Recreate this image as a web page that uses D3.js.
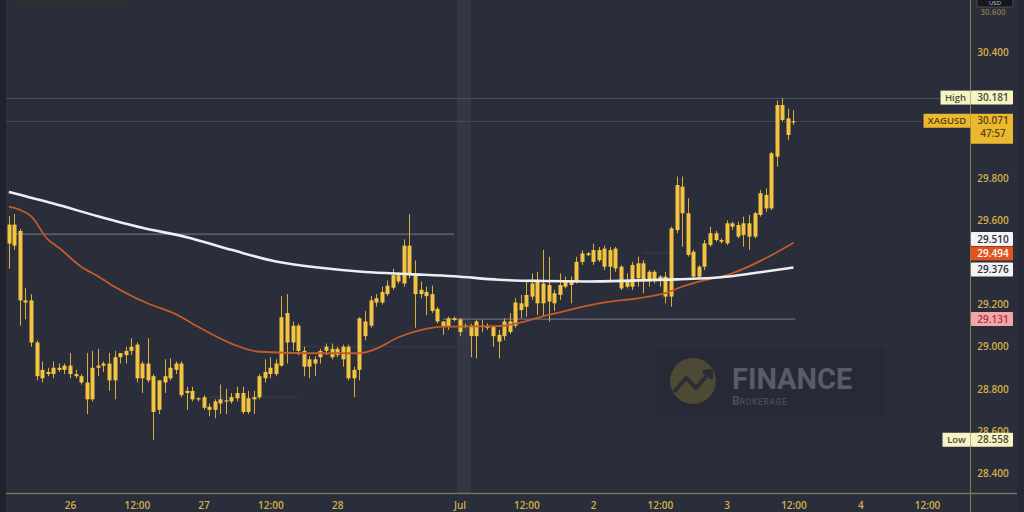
<!DOCTYPE html>
<html><head><meta charset="utf-8">
<script src="https://cdn.jsdelivr.net/npm/d3@7"></script>
<style>html,body{margin:0;padding:0;background:#2a2d3a;overflow:hidden}</style>
</head><body>
<svg id="c" width="1024" height="512"></svg>
<script>
// ---- DATA (XAGUSD, 1h candles) ----
const opens=[29.49,29.58,29.55,29.22,29.22,29.02,28.85,28.88,28.87,28.90,
28.89,28.91,28.87,28.86,28.83,28.75,28.90,28.91,28.92,28.84,
28.95,28.96,28.98,29.01,28.85,28.92,28.86,28.70,28.83,28.85,
28.89,28.92,28.79,28.79,28.755,28.76,28.715,28.70,28.73,28.745,
28.74,28.755,28.78,28.69,28.75,28.76,28.85,28.87,28.87,28.91,
29.16,29.02,29.10,28.98,28.905,28.94,28.95,28.98,28.99,28.96,
28.94,29.00,28.85,28.89,29.12,29.10,29.21,29.21,29.25,29.28,
29.34,29.30,29.48,29.34,29.25,29.26,29.25,29.18,29.12,29.095,
29.135,29.13,29.095,29.10,29.05,29.10,29.10,29.095,29.056,29.05,
29.07,29.10,29.206,29.19,29.238,29.317,29.206,29.293,29.206,29.246,
29.285,29.317,29.309,29.403,29.443,29.403,29.459,29.38,29.459,29.372,
29.38,29.285,29.285,29.396,29.317,29.356,29.317,29.333,29.333,29.238,
29.554,29.76,29.634,29.451,29.333,29.38,29.483,29.539,29.507,29.491,
29.586,29.578,29.531,29.586,29.523,29.626,29.721,29.657,29.903,30.148,
30.085,30.069];
const highs=[29.62,29.63,29.56,29.28,29.25,29.03,28.93,28.90,28.93,28.92,
28.92,28.97,28.89,28.87,28.97,28.98,28.99,28.93,28.97,28.98,
28.97,29.00,29.04,29.02,28.93,29.04,28.87,28.84,28.94,28.945,
28.93,28.93,28.81,28.81,28.76,28.77,28.73,28.75,28.82,28.80,
28.78,28.81,28.81,28.79,28.79,28.87,28.94,28.95,28.94,29.24,
29.25,29.12,29.11,29.00,28.955,28.955,28.99,29.015,29.015,29.00,
29.01,29.01,28.905,29.14,29.17,29.24,29.25,29.285,29.315,29.37,
29.355,29.51,29.63,29.41,29.31,29.285,29.29,29.19,29.12,29.143,
29.143,29.135,29.11,29.11,29.127,29.127,29.11,29.10,29.08,29.135,
29.16,29.23,29.246,29.309,29.348,29.356,29.46,29.427,29.27,29.348,
29.333,29.333,29.427,29.459,29.45,29.49,29.474,29.48,29.474,29.474,
29.388,29.348,29.403,29.427,29.412,29.364,29.364,29.34,29.356,29.57,
29.808,29.808,29.705,29.46,29.388,29.507,29.57,29.55,29.515,29.60,
29.594,29.594,29.618,29.626,29.641,29.744,29.752,29.926,30.17,30.181,
30.132,30.124];
const lows=[29.37,29.46,29.10,29.13,29.00,28.84,28.83,28.86,28.85,28.88,
28.87,28.85,28.85,28.82,28.68,28.74,28.86,28.88,28.79,28.75,
28.92,28.92,28.96,28.83,28.78,28.83,28.558,28.68,28.78,28.84,
28.87,28.76,28.70,28.74,28.74,28.70,28.67,28.66,28.68,28.68,
28.73,28.74,28.68,28.68,28.68,28.75,28.83,28.85,28.86,28.905,
28.92,28.98,28.96,28.86,28.85,28.86,28.92,28.96,28.94,28.95,
28.905,28.84,28.76,28.84,29.03,29.09,29.19,29.20,29.24,29.27,
29.30,29.285,29.325,29.09,29.23,29.15,29.16,29.11,29.056,29.08,
29.12,29.05,29.087,28.95,28.944,29.07,29.08,29.00,28.944,29.03,
29.06,29.09,29.135,29.143,29.222,29.151,29.143,29.119,29.17,29.222,
29.277,29.206,29.30,29.388,29.43,29.388,29.403,29.364,29.317,29.356,
29.269,29.277,29.269,29.285,29.254,29.285,29.30,29.285,29.206,29.19,
29.539,29.475,29.428,29.325,29.325,29.364,29.475,29.499,29.49,29.483,
29.554,29.515,29.475,29.46,29.515,29.618,29.641,29.649,29.855,30.069,
29.982,30.053];
const closes=[29.58,29.48,29.22,29.21,29.02,28.86,28.89,28.87,28.90,28.89,
28.91,28.87,28.86,28.83,28.75,28.90,28.91,28.92,28.84,28.95,
28.97,28.98,29.00,28.85,28.92,28.84,28.69,28.84,28.86,28.90,
28.92,28.77,28.78,28.75,28.75,28.71,28.70,28.74,28.75,28.74,
28.76,28.78,28.69,28.755,28.76,28.86,28.88,28.90,28.92,29.14,
29.02,29.10,28.98,28.905,28.94,28.92,28.98,29.00,28.95,28.99,
29.00,28.85,28.89,29.135,29.05,29.22,29.23,29.26,29.29,29.34,
29.31,29.48,29.34,29.25,29.27,29.24,29.17,29.12,29.095,29.135,
29.127,29.07,29.10,29.05,29.12,29.095,29.09,29.05,29.024,29.12,
29.12,29.21,29.174,29.246,29.30,29.206,29.30,29.214,29.254,29.293,
29.317,29.293,29.403,29.443,29.435,29.459,29.411,29.466,29.38,29.466,
29.277,29.309,29.388,29.325,29.396,29.317,29.356,29.317,29.238,29.562,
29.768,29.634,29.436,29.333,29.38,29.491,29.539,29.507,29.499,29.586,
29.57,29.523,29.586,29.523,29.634,29.729,29.657,29.919,30.148,30.077,
30.006,30.071];

// moving averages (at selected bars)
const ma200Idx=[0,8,16,24,32,40,48,56,64,72,80,88,96,104,112,120,128,134,141];
const ma200Vals=[29.735,29.68,29.62,29.565,29.52,29.46,29.405,29.375,29.355,29.345,29.335,29.318,29.312,29.31,29.314,29.32,29.33,29.35,29.376];
const ma50Idx=[0,2,4,7,9,13,16,19,25,30,34,40,45,54,63,66,70,74,78,88,97,106,115,118,121,124,130,136,141];
const ma50Vals=[29.665,29.65,29.62,29.51,29.47,29.38,29.335,29.285,29.205,29.155,29.095,29.015,28.976,28.969,28.969,28.99,29.045,29.079,29.095,29.098,29.151,29.206,29.238,29.255,29.285,29.309,29.349,29.42,29.494];

const xTickIdx=[11,23,35,47,59,81,93,105,117,129,141,153,165];
const xTickLabels=["26","12:00","27","12:00","28","Jul","12:00","2","12:00","3","12:00","4","12:00"];
// visible price-scale ticks (30.200, 30.000 and 29.400 sit under the price tags)
const yTicks=[28.4,28.6,28.8,29.0,29.2,29.6,29.8,30.4,30.6];

const symbol="XAGUSD", countdown="47:57";
const highVal=30.181, lowVal=28.558, lastVal=30.071;
const levelA=29.535, levelALabel=29.510, levelB=29.131;
const ma50Last=29.494, ma200Last=29.376;

// ---- CHART ----
const svg=d3.select("#c");
const W=1024,H=512;
const x=d3.scaleLinear().domain([0,165]).range([8.8,8.8+165*5.565]);
const y=d3.scaleLinear().domain([28.4,30.4]).range([473,52]);
const axisX=970.5, axisY=493.5;

svg.append("rect").attr("width",W).attr("height",H).attr("fill","#2a2d3a");
svg.append("rect").attr("x",0).attr("y",0).attr("width",6).attr("height",H).attr("fill","#1f222c");
svg.append("rect").attr("x",1017).attr("y",0).attr("width",7).attr("height",H).attr("fill","#262935");
// session break band
svg.append("rect").attr("x",457).attr("y",0).attr("width",14).attr("height",axisY).attr("fill","#343745");
// top-left partial legend
svg.append("rect").attr("x",16).attr("y",-4).attr("width",112).attr("height",9).attr("fill","#2e3133");

// watermark
const wm=svg.append("g");
wm.append("rect").attr("x",655).attr("y",348).attr("width",230).attr("height",68).attr("fill","#272a36");
wm.append("circle").attr("cx",693).attr("cy",381).attr("r",23).attr("fill","#4d4935");
wm.append("path").attr("d","M674,392 L686,378 L696,388 L710,372 M703,372 L711,371 L711,379")
  .attr("fill","none").attr("stroke","#2b2d33").attr("stroke-width",4).attr("stroke-linejoin","round");
wm.append("text").attr("x",732).attr("y",389).attr("font-family","Roboto, 'Open Sans', sans-serif").attr("font-weight",700)
  .attr("font-size",29).attr("fill","#585c69").text("FINANCE");
const bt=wm.append("text").attr("x",732).attr("y",405).attr("font-family","Roboto, sans-serif").attr("fill","#4a4e5a");
bt.append("tspan").attr("font-weight",700).attr("font-size",12).text("B");
bt.append("tspan").attr("font-weight",500).attr("font-size",8.5).attr("letter-spacing",0.6).attr("fill","#474b57").text("ROKERAGE");

// horizontal lines
const hl=svg.append("g");
hl.append("line").attr("x1",6).attr("x2",940).attr("y1",Math.round(y(highVal))+0.5).attr("y2",Math.round(y(highVal))+0.5)
  .attr("stroke","#4c505c").attr("stroke-width",1);
hl.append("line").attr("x1",6).attr("x2",922).attr("y1",Math.round(y(lastVal))+0.5).attr("y2",Math.round(y(lastVal))+0.5)
  .attr("stroke","#5a5e68").attr("stroke-width",1).attr("stroke-dasharray","1,1");
hl.append("line").attr("x1",x(0)+4).attr("x2",x(80)).attr("y1",y(levelA)).attr("y2",y(levelA))
  .attr("stroke","#6c6f78").attr("stroke-width",1.2);
hl.append("line").attr("x1",x(78)).attr("x2",x(141)+2).attr("y1",y(levelB)).attr("y2",y(levelB))
  .attr("stroke","#6c6f78").attr("stroke-width",1.2);
hl.append("line").attr("x1",x(52)).attr("x2",x(80)).attr("y1",y(29.0)).attr("y2",y(29.0))
  .attr("stroke","#3c3f4b").attr("stroke-width",1);
hl.append("line").attr("x1",x(36)).attr("x2",x(52)).attr("y1",y(28.76)).attr("y2",y(28.76))
  .attr("stroke","#3c3f4b").attr("stroke-width",1);
hl.append("line").attr("x1",x(114)).attr("x2",x(119)).attr("y1",y(29.445)).attr("y2",y(29.445))
  .attr("stroke","#3c3f4b").attr("stroke-width",1);

// candles
const cg=svg.append("g");
const bars=d3.range(closes.length);
cg.selectAll("line.w").data(bars).join("line").attr("class","w")
  .attr("x1",i=>Math.round(x(i))+0.5).attr("x2",i=>Math.round(x(i))+0.5)
  .attr("y1",i=>y(highs[i])).attr("y2",i=>y(lows[i]))
  .attr("stroke","#d9ad3c").attr("stroke-width",1);
cg.selectAll("rect.b").data(bars).join("rect").attr("class","b")
  .attr("x",i=>Math.round(x(i))-1.5).attr("width",4)
  .attr("y",i=>y(Math.max(opens[i],closes[i])))
  .attr("height",i=>Math.max(1.2,Math.abs(y(opens[i])-y(closes[i]))))
  .attr("fill","#f4c440");

// moving averages
const line=d3.line().x(d=>x(d[0])).y(d=>y(d[1])).curve(d3.curveMonotoneX);
svg.append("path").datum(ma50Idx.map((d,k)=>[d,ma50Vals[k]])).attr("d",line)
  .attr("fill","none").attr("stroke","#c25b2b").attr("stroke-width",1.8);
svg.append("path").datum(ma200Idx.map((d,k)=>[d,ma200Vals[k]])).attr("d",line)
  .attr("fill","none").attr("stroke","#eceef2").attr("stroke-width",2.6);

// axes lines
svg.append("line").attr("x1",axisX).attr("x2",axisX).attr("y1",0).attr("y2",H).attr("stroke","#8d7d48").attr("stroke-width",1);
svg.append("line").attr("x1",6).attr("x2",1017).attr("y1",axisY).attr("y2",axisY).attr("stroke","#77745c").attr("stroke-width",1.6);

// right axis ticks
const fontF="'Open Sans', 'Liberation Sans', sans-serif";
const ra=svg.append("g").attr("transform",`translate(${axisX},0)`)
  .call(d3.axisRight(y).tickValues(yTicks).tickFormat(d3.format(".3f")).tickSize(0).tickPadding(0));
ra.select(".domain").remove();
ra.selectAll("text").attr("x",22.5).attr("text-anchor","middle").attr("font-family",fontF)
  .attr("font-size",10).attr("font-weight",600).attr("fill","#d6b04a");
ra.selectAll(".tick").filter(d=>d>30.5).select("text").attr("fill","#8a7a44").attr("font-size",8).attr("dy","0.55em");

// bottom axis ticks
const ba=svg.append("g").attr("transform",`translate(0,${axisY})`)
  .call(d3.axisBottom(x).tickValues(xTickIdx).tickFormat((d,k)=>xTickLabels[k]).tickSize(0).tickPadding(8));
ba.select(".domain").remove();
ba.selectAll("text").attr("font-family",fontF).attr("font-size",10).attr("font-weight",600).attr("fill","#d6b04a");

// price labels
function tag(v,cy,fill,color,text,h){
  h=h||14;
  svg.append("rect").attr("x",axisX+0.5).attr("y",cy-h/2).attr("width",42).attr("height",h).attr("fill",fill).attr("rx",1);
  svg.append("text").attr("x",axisX+22.5).attr("y",cy+3.5).attr("text-anchor","middle").attr("font-family",fontF)
    .attr("font-size",10).attr("font-weight",600).attr("fill",color).text(text||d3.format(".3f")(v));
}
function sideTag(cy,w,fill,color,text){
  svg.append("rect").attr("x",axisX-w).attr("y",cy-7).attr("width",w).attr("height",14).attr("fill",fill);
  svg.append("text").attr("x",axisX-w/2).attr("y",cy+3.5).attr("text-anchor","middle").attr("font-family",fontF)
    .attr("font-size",9.5).attr("font-weight",600).attr("fill",color).text(text);
}
// top partial currency box
svg.append("rect").attr("x",977).attr("y",-5).attr("width",36).attr("height",12).attr("fill","#15171f").attr("stroke","#4a4d57");
svg.append("text").attr("x",995).attr("y",5.2).attr("text-anchor","middle").attr("font-family",fontF).attr("font-size",6)
  .attr("fill","#d0d0d0").text("USD");

sideTag(y(highVal)-0.5,30,"#f8f3c2","#4a4a3a","High");
tag(highVal,y(highVal)-0.5,"#f8f3c2","#4a4a3a");
sideTag(y(lastVal)-0.5,47,"#ebb92f","#5a4310",symbol);
svg.append("rect").attr("x",axisX+0.5).attr("y",y(lastVal)-7.5).attr("width",42).attr("height",30).attr("fill","#ebb92f");
svg.append("text").attr("x",axisX+22.5).attr("y",y(lastVal)+3).attr("text-anchor","middle").attr("font-family",fontF)
  .attr("font-size",10).attr("font-weight",600).attr("fill","#5a4310").text(d3.format(".3f")(lastVal));
svg.append("text").attr("x",axisX+22.5).attr("y",y(lastVal)+16).attr("text-anchor","middle").attr("font-family",fontF)
  .attr("font-size",10).attr("font-weight",600).attr("fill","#5a4310").text(countdown);

tag(levelALabel,239,"#f4f4f6","#2a2d3a");
tag(ma50Last,253.5,"#e4531d","#ffffff");
tag(ma200Last,269.5,"#f4f4f6","#2a2d3a");
tag(levelB,y(levelB),"#f2a6aa","#a8323f");
sideTag(y(lowVal),28,"#f8f3c2","#4a4a3a","Low");
tag(lowVal,y(lowVal),"#f8f3c2","#4a4a3a");
</script>
</body></html>
